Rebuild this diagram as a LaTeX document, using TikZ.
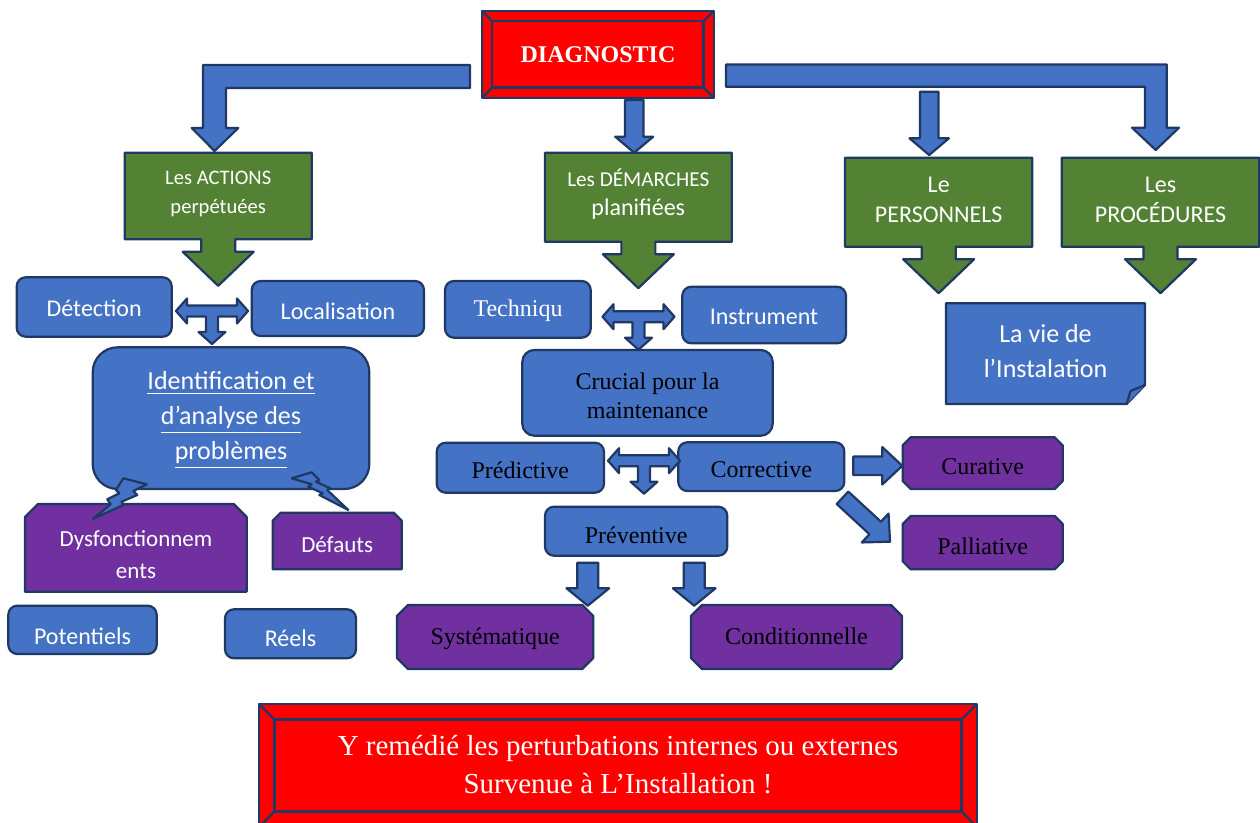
\documentclass[tikz,border=0pt]{standalone}
\usepackage{fontspec}
\setmainfont{Liberation Serif}
\newfontfamily\calibri{Carlito}
\usetikzlibrary{fit}
\definecolor{boxblue}{RGB}{68,114,196}
\definecolor{navy}{RGB}{31,56,100}
\definecolor{boxgreen}{RGB}{84,130,53}
\definecolor{boxpurple}{RGB}{112,48,160}
\definecolor{alarmred}{RGB}{255,0,0}

\tikzset{
  navyline/.style={draw=navy, line width=1.1pt, line join=round},
  blkarr/.style={navyline, fill=boxblue},
  greenbox/.style={navyline, fill=boxgreen},
  purplebox/.style={navyline, fill=boxpurple},
  bevelred/.style={navyline, fill=alarmred},
  txt/.style={inner sep=0pt, align=center, text=white},
  sanstxt/.style={txt, font=\calibri\fontsize{12}{15.5}\selectfont},
  seriftxt/.style={txt, text=black, font=\fontsize{12}{14.5}\selectfont},
  bluebox/.style={navyline, fill=boxblue, rounded corners=4.5pt, inner sep=0pt},
}

% block arrow: x, y, angle, length, shaft, head, head length
\newcommand\blk[7]{\draw[blkarr,shift={(#1,#2)},rotate=#3] (0,-#5) -- (#4-#7,-#5) -- (#4-#7,-#6) -- (#4,0) -- (#4-#7,#6) -- (#4-#7,#5) -- (0,#5) -- cycle;}
% T-shaped arrow around a centre
\newcommand\tblk[2]{\draw[blkarr,shift={(#1,#2)}] (-36,0) -- (-25,-12.5) -- (-25,-5.5) -- (25,-5.5) -- (25,-12.5) -- (36,0) -- (25,12.5) -- (25,5.5) -- (6,5.5) -- (6,21) -- (13.5,21) -- (0,33) -- (-13.5,21) -- (-6,21) -- (-6,5.5) -- (-25,5.5) -- (-25,12.5) -- cycle;}
% green box with arrow below
\newcommand\greencall[4]{\pgfmathsetmacro\cx{(#1+#3)/2}
  \draw[greenbox] (#1,#2) -- (#3,#2) -- (#3,#4) -- (\cx+17,#4) -- (\cx+17,#4+12.5) -- (\cx+35.5,#4+12.5) -- (\cx,#4+46.5) -- (\cx-35.5,#4+12.5) -- (\cx-17,#4+12.5) -- (\cx-17,#4) -- (#1,#4) -- cycle;}
% bevelled red frame
\newcommand\bevel[5]{\draw[bevelred] (#1,#2) rectangle (#3,#4);
  \draw[bevelred] (#1+#5,#2+#5) rectangle (#3-#5,#4-#5);
  \draw[navyline] (#1,#2) -- (#1+#5,#2+#5) (#3,#2) -- (#3-#5,#2+#5) (#3,#4) -- (#3-#5,#4-#5) (#1,#4) -- (#1+#5,#4-#5);}
% snipped boxes
\newcommand\snipall[6]{\draw[#1] (#2+#6,#3) -- (#4-#6,#3) -- (#4,#3+#6) -- (#4,#5-#6) -- (#4-#6,#5) -- (#2+#6,#5) -- (#2,#5-#6) -- (#2,#3+#6) -- cycle;}
\newcommand\sniptop[6]{\draw[#1] (#2+#6,#3) -- (#4-#6,#3) -- (#4,#3+#6) -- (#4,#5) -- (#2,#5) -- (#2,#3+#6) -- cycle;}

\begin{document}
\begin{tikzpicture}[x=0.5pt, y=-0.5pt]
  \useasboundingbox (0,0) rectangle (1260,823);

  % top
  \bevel{481.7}{10.7}{714}{98}{10.5}
  \node[txt, font=\bfseries\fontsize{12}{13}\selectfont] (diag) at (598,55) {DIAGNOSTIC};

  \draw[blkarr] (470,65) -- (203,65) -- (203,128) -- (191.7,128) -- (214.5,151) -- (238.3,128) -- (226,128) -- (226,88) -- (470,88) -- cycle;
  \draw[blkarr] (726,64.5) -- (1166.7,64.5) -- (1166.7,127.7) -- (1179,127.7) -- (1155.7,150) -- (1132,127.7) -- (1145,127.7) -- (1145,86.7) -- (726,86.7) -- cycle;
  \blk{634.2}{100}{-90}{52.7}{9.2}{19}{16}
  \blk{929.2}{91.7}{-90}{63.3}{9.2}{19.7}{16.7}

  % green boxes
  \greencall{124.7}{152.7}{311.7}{239.3}
  \node[txt, font=\calibri\fontsize{10.3}{14.3}\selectfont] (actions) at (218.2,194) {Les ACTIONS\\perpétuées};
  \greencall{545}{152.7}{731.7}{241.7}
  \node[txt, font=\calibri\fontsize{10.6}{14.2}\selectfont] (demarches) at (638.3,194) {Les DÉMARCHES\\{\fontsize{12}{14.2}\selectfont planifiées}};
  \greencall{845}{157.7}{1032.3}{246.7}
  \node[txt, font=\calibri\fontsize{12}{15}\selectfont] (personnels) at (938.7,200) {Le\\PERSONNELS};
  \greencall{1061.7}{157.7}{1259.3}{246.7}
  \node[txt, font=\calibri\fontsize{12}{15}\selectfont] (procedures) at (1160.5,200) {Les\\PROCÉDURES};

  % la vie de l'installation
  \draw[blkarr] (946,303.3) -- (1145,303.3) -- (1145,385) -- (1126.7,404) -- (946,404) -- cycle;
  \draw[blkarr] (1126.7,404) -- (1130.5,391) -- (1145,385);
  \node[txt, font=\calibri\fontsize{13}{17.5}\selectfont] (vie) at (1045.5,351) {La vie de\\l’Instalation};

  % left part
  \node[bluebox, fit={(16.7,277.3) (171.7,336.7)}] (detection) {};
  \node[sanstxt] (detection-t) at (94.2,308) {Détection};
  \node[bluebox, fit={(251.7,281) (424,336)}] (localisation) {};
  \node[sanstxt] (localisation-t) at (338,311) {Localisation};
  \tblk{212}{311}
  \node[bluebox, rounded corners=12.5pt, fit={(92.7,347.3) (369.3,489)}] (identification) {};
  \node[txt, font=\calibri\fontsize{13}{17.5}\selectfont] (identification-t) at (231,420)
    {\underline{Identification et}\\\underline{d’analyse des}\\\underline{problèmes}};
  \sniptop{purplebox}{25}{504}{246.7}{591.7}{13}
  \node[txt, font=\calibri\fontsize{11.5}{16}\selectfont] (dysfonct) at (136,555) {Dysfonctionnem\\ents};
  \sniptop{purplebox}{272.7}{512.7}{401.7}{569.3}{8}
  \node[txt, font=\calibri\fontsize{11.5}{14}\selectfont] (defauts) at (337.2,545) {Défauts};
  \draw[blkarr] (123.3,478.3) -- (146.7,484.3) -- (133.3,491) -- (137.3,495) -- (121.7,501.7) -- (123.3,505) -- (92.7,519) -- (110.7,504.3) -- (107.3,499.3) -- (119.3,493.3) -- (116,490) -- cycle;
  \draw[blkarr] (291.7,478.3) -- (311.7,472.3) -- (319.3,480) -- (316,481.7) -- (330,488.3) -- (327.3,490) -- (348.3,510) -- (319.3,495) -- (322.7,493.3) -- (308.3,486.7) -- (311.7,484.3) -- cycle;
  \node[bluebox, fit={(8.3,605.7) (156.7,654)}] (potentiels) {};
  \node[sanstxt] (potentiels-t) at (82.5,636) {Potentiels};
  \node[bluebox, fit={(225,609.3) (356,658.3)}] (reels) {};
  \node[sanstxt] (reels-t) at (290.5,638) {Réels};

  % middle part
  \node[bluebox, fit={(445,281) (590.7,337.7)}] (technique) {};
  \node[seriftxt, text=white] (technique-t) at (518,311) {Techniqu};
  \node[bluebox, fit={(682.3,286.7) (846,343.3)}] (instrument) {};
  \node[sanstxt] (instrument-t) at (764,317) {Instrument};
  \tblk{638.5}{316.7}
  \node[bluebox, rounded corners=6pt, fit={(522.3,350) (772.7,435.7)}] (crucial) {};
  \node[seriftxt] (crucial-t) at (647.5,395.5) {Crucial pour la\\maintenance};
  \node[bluebox, fit={(436.7,442.7) (604,492.7)}] (predictive) {};
  \node[seriftxt] (predictive-t) at (520.3,470) {Prédictive};
  \node[bluebox, fit={(678.3,442.3) (844.3,491)}] (corrective) {};
  \node[seriftxt] (corrective-t) at (761.3,470) {Corrective};
  \tblk{644}{460.7}
  \node[bluebox, fit={(545,506.7) (727.3,555.7)}] (preventive) {};
  \node[seriftxt] (preventive-t) at (636.2,535) {Préventive};
  \blk{587.8}{562.7}{-90}{43}{10.5}{21.3}{17.4}
  \blk{694.2}{562.7}{-90}{43}{10.5}{21.3}{17.4}
  \snipall{purplebox}{397}{605}{593.3}{669}{11}
  \node[seriftxt] (systematique) at (495.2,639) {Systématique};
  \snipall{purplebox}{691}{605}{902}{669}{11}
  \node[seriftxt] (conditionnelle) at (796.5,636.5) {Conditionnelle};

  % right part
  \blk{853.3}{465.8}{0}{49}{9.2}{18.7}{20}
  \blk{842.5}{497.8}{-42.7}{64.7}{8.5}{19.7}{20.2}
  \snipall{purplebox}{902.7}{437.3}{1062.7}{489}{8}
  \node[seriftxt] (curative) at (982.7,467) {Curative};
  \snipall{purplebox}{902.7}{516}{1062.7}{569.3}{8}
  \node[seriftxt] (palliative) at (982.7,546) {Palliative};

  % bottom
  \bevel{259}{704}{977}{827}{15.5}
  \node[txt, font=\fontsize{14.5}{19}\selectfont] (conclusion) at (618,765)
    {Y remédié les perturbations internes ou externes\\Survenue à L’Installation !};
\end{tikzpicture}
\end{document}
